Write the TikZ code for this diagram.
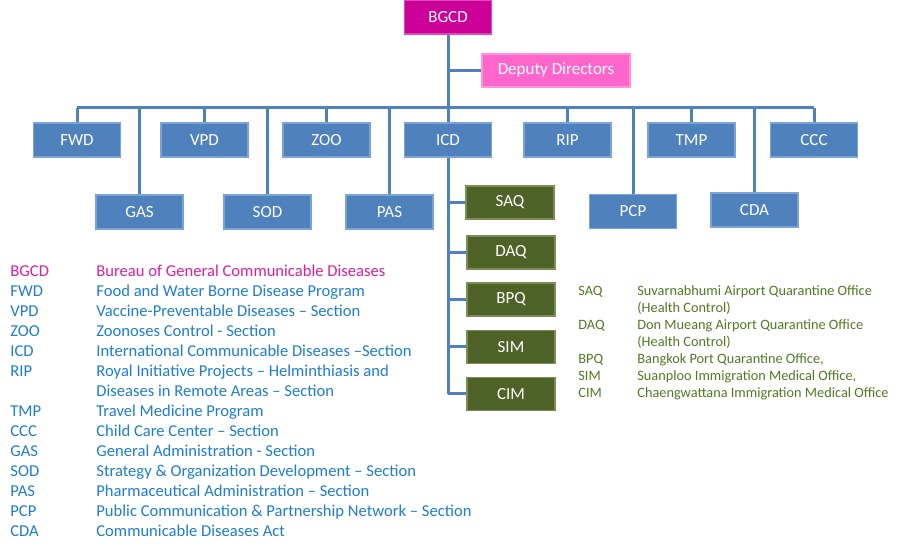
\documentclass[tikz,border=0pt]{standalone}
\usepackage{fontspec}
\setmainfont{Carlito}
\definecolor{boxblue}{HTML}{4F81BD}
\definecolor{boxedge}{HTML}{7BA3D6}
\definecolor{headmag}{HTML}{CC0099}
\definecolor{deppink}{HTML}{FF66CC}
\definecolor{qgreen}{HTML}{4F6228}
\definecolor{qedge}{HTML}{7A8F55}
\definecolor{keyblue}{RGB}{30,125,210}
\definecolor{keymag}{RGB}{222,30,160}
\definecolor{keygreen}{RGB}{79,122,35}
\begin{document}
\begin{tikzpicture}[
	x=0.5pt, y=-0.5pt,
	unit/.style={ draw=boxedge, fill=boxblue, text=white, line width=0.6pt, inner sep=0pt, minimum width=43.5pt, minimum height=17pt, font=\fontsize{8.5}{10}\selectfont },
	head/.style={ unit, draw=headmag!70!white, fill=headmag },
	deputy/.style={ unit, draw=deppink!70!white, fill=deppink, minimum width=74pt, minimum height=16.5pt },
	office/.style={ unit, draw=qedge, fill=qgreen, minimum width=44pt, minimum height=16.5pt },
	link/.style={ boxblue, line width=1.5pt },
	key/.style={ anchor=west, inner sep=0pt, text height=8pt, text depth=2pt, text=keyblue, font=\fontsize{8.3}{10}\selectfont },
	keyq/.style={ key, text=keygreen, text height=7.5pt, font=\fontsize{7.15}{8.5}\selectfont }
]
\useasboundingbox (0,0) rectangle (900,560);

\node at (448,17) (bgcd) [head] {BGCD};
\node at (556,70.5) (dd) [deputy] {Deputy Directors};
\node at (77,140) (fwd) [unit] {FWD};
\node at (204.5,140) (vpd) [unit] {VPD};
\node at (326.5,140) (zoo) [unit] {ZOO};
\node at (448,140) (icd) [unit] {ICD};
\node at (567.5,140) (rip) [unit] {RIP};
\node at (691.5,140) (tmp) [unit] {TMP};
\node at (814,140) (ccc) [unit] {CCC};
\node at (139.5,212) (gas) [unit] {GAS};
\node at (267.5,212) (sod) [unit] {SOD};
\node at (389.5,212) (pas) [unit] {PAS};
\node at (633,211.5) (pcp) [unit] {PCP};
\node at (754.5,210) (cda) [unit] {CDA};
\node at (510,202.5) (saq) [office] {SAQ};
\node at (511,252.5) (daq) [office] {DAQ};
\node at (511,299.5) (bpq) [office] {BPQ};
\node at (511,347) (sim) [office] {SIM};
\node at (511,394) (cim) [office] {CIM};
\coordinate (bus) at (448,108);

\draw[link] (bgcd) -- (icd);
\draw[link] (dd.west) -- (dd.west -| bgcd);
\draw[link] (fwd.north |- bus) -- (ccc.north |- bus);
\draw[link] (fwd.north) -- (fwd.north |- bus);
\draw[link] (vpd.north) -- (vpd.north |- bus);
\draw[link] (zoo.north) -- (zoo.north |- bus);
\draw[link] (rip.north) -- (rip.north |- bus);
\draw[link] (tmp.north) -- (tmp.north |- bus);
\draw[link] (ccc.north) -- (ccc.north |- bus);
\draw[link] (gas.north) -- (gas.north |- bus);
\draw[link] (sod.north) -- (sod.north |- bus);
\draw[link] (pas.north) -- (pas.north |- bus);
\draw[link] (pcp.north) -- (pcp.north |- bus);
\draw[link] (cda.north) -- (cda.north |- bus);
\draw[link] (icd.south) -- (icd.south |- cim.west);
\draw[link] (saq.west) -- (saq.west -| icd);
\draw[link] (daq.west) -- (daq.west -| icd);
\draw[link] (bpq.west) -- (bpq.west -| icd);
\draw[link] (sim.west) -- (sim.west -| icd);
\draw[link] (cim.west) -- (cim.west -| icd);

\node at (10,271) (kbgcd) [key,text=keymag] {BGCD};
\node at (96,271) (tbgcd) [key,text=keymag] {Bureau of General Communicable Diseases};
\node at (10,291) (kfwd) [key] {FWD};
\node at (96,291) (tfwd) [key] {Food and Water Borne Disease Program};
\node at (10,311) (kvpd) [key] {VPD};
\node at (96,311) (tvpd) [key] {Vaccine-Preventable Diseases – Section};
\node at (10,331) (kzoo) [key] {ZOO};
\node at (96,331) (tzoo) [key] {Zoonoses Control - Section};
\node at (10,351) (kicd) [key] {ICD};
\node at (96,351) (ticd) [key] {International Communicable Diseases –Section};
\node at (10,371) (krip) [key] {RIP};
\node at (96,371) (trip) [key] {Royal Initiative Projects – Helminthiasis and};
\node at (96,391) (trip2) [key] {Diseases in Remote Areas – Section};
\node at (10,411) (ktmp) [key] {TMP};
\node at (96,411) (ttmp) [key] {Travel Medicine Program};
\node at (10,431) (kccc) [key] {CCC};
\node at (96,431) (tccc) [key] {Child Care Center – Section};
\node at (10,451) (kgas) [key] {GAS};
\node at (96,451) (tgas) [key] {General Administration - Section};
\node at (10,471) (ksod) [key] {SOD};
\node at (96,471) (tsod) [key] {Strategy \& Organization Development – Section};
\node at (10,491) (kpas) [key] {PAS};
\node at (96,491) (tpas) [key] {Pharmaceutical Administration – Section};
\node at (10,511) (kpcp) [key] {PCP};
\node at (96,511) (tpcp) [key] {Public Communication \& Partnership Network – Section};
\node at (10,531) (kcda) [key] {CDA};
\node at (96,531) (tcda) [key] {Communicable Diseases Act};

\node at (578,290) (ksaq) [keyq] {SAQ};
\node at (637,290) (tsaq) [keyq] {Suvarnabhumi Airport Quarantine Office};
\node at (637,307) (tsaq2) [keyq] {(Health Control)};
\node at (578,324) (kdaq) [keyq] {DAQ};
\node at (637,324) (tdaq) [keyq] {Don Mueang Airport Quarantine Office};
\node at (637,341) (tdaq2) [keyq] {(Health Control)};
\node at (578,358) (kbpq) [keyq] {BPQ};
\node at (637,358) (tbpq) [keyq] {Bangkok Port Quarantine Office,};
\node at (578,375) (ksim) [keyq] {SIM};
\node at (637,375) (tsim) [keyq] {Suanploo Immigration Medical Office,};
\node at (578,392) (kcim) [keyq] {CIM};
\node at (637,392) (tcim) [keyq] {Chaengwattana Immigration Medical Office};

\end{tikzpicture}
\end{document}
